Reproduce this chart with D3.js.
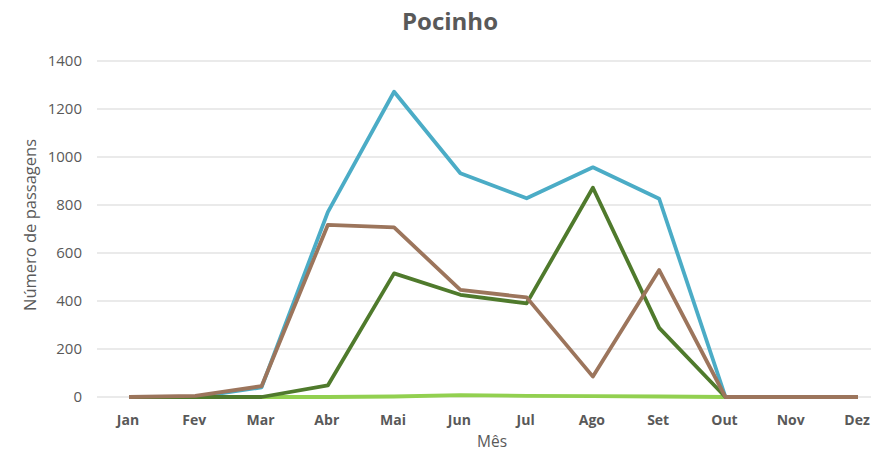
<!DOCTYPE html>
<html>
<head>
<meta charset="utf-8">
<script src="https://cdn.jsdelivr.net/npm/d3@7"></script>
<style>
  body { margin: 0; background: #fff; }
  text { font-family: "Open Sans", "DejaVu Sans", sans-serif; fill: #595959; }
</style>
</head>
<body>
<div id="chart"></div>
<script>
var months = ['Jan', 'Fev', 'Mar', 'Abr', 'Mai', 'Jun', 'Jul', 'Ago', 'Set', 'Out', 'Nov', 'Dez']
var yTicks = [0, 200, 400, 600, 800, 1000, 1200, 1400]

// values
var serieAzul = [0, 0, 40, 770, 1272, 932, 828, 957, 826, 0, 0, 0]
var serieVerdeEscuro = [0, 0, 0, 48, 515, 426, 390, 872, 288, 0, 0, 0]
var serieCastanho = [0, 5, 45, 717, 707, 446, 415, 85, 529, 0, 0, 0]
var serieVerdeClaro = [0, 0, 0, 0, 2, 8, 5, 4, 2, 0, 0, 0]

var series = [
  { name: 'verde claro', values: serieVerdeClaro, color: '#92d050' },
  { name: 'azul', values: serieAzul, color: '#4bacc6' },
  { name: 'verde escuro', values: serieVerdeEscuro, color: '#4f7a2c' },
  { name: 'castanho', values: serieCastanho, color: '#9c755c' }
]

var width = 871
var height = 453

var svg = d3
  .select('#chart')
  .append('svg')
  .attr('width', width)
  .attr('height', height)

var x = d3.scalePoint().domain(months).range([129, 858])
var y = d3.scaleLinear().domain([0, 1400]).range([397, 61])

// gridlines
svg
  .selectAll('.grid')
  .data(yTicks)
  .enter()
  .append('line')
  .attr('x1', 97)
  .attr('x2', 871)
  .attr('y1', d => y(d))
  .attr('y2', d => y(d))
  .attr('stroke', '#e3e3e3')
  .attr('stroke-width', 1.5)

// y tick labels
svg
  .selectAll('.ytick')
  .data(yTicks)
  .enter()
  .append('text')
  .attr('x', 82)
  .attr('y', d => y(d))
  .attr('dy', '0.35em')
  .attr('text-anchor', 'end')
  .style('font-size', '15px')
  .text(d => d)

// x tick labels
svg
  .selectAll('.xtick')
  .data(months)
  .enter()
  .append('text')
  .attr('x', d => x(d) - 1)
  .attr('y', 425)
  .attr('text-anchor', 'middle')
  .style('font-size', '14px')
  .style('font-weight', 'bold')
  .text(d => d)

var line = d3
  .line()
  .x((d, i) => x(months[i]))
  .y(d => y(d))

svg
  .selectAll('.serie')
  .data(series)
  .enter()
  .append('path')
  .attr('d', d => line(d.values))
  .attr('fill', 'none')
  .attr('stroke', d => d.color)
  .attr('stroke-width', 3.8)
  .attr('stroke-linejoin', 'round')

// titles
svg
  .append('text')
  .attr('x', 450)
  .attr('y', 30)
  .attr('text-anchor', 'middle')
  .style('font-size', '24px')
  .style('font-weight', 'bold')
  .text('Pocinho')

svg
  .append('text')
  .attr('x', 492)
  .attr('y', 447)
  .attr('text-anchor', 'middle')
  .style('font-size', '15.5px')
  .text('Mês')

svg
  .append('text')
  .attr('transform', 'translate(36,225) rotate(-90)')
  .attr('text-anchor', 'middle')
  .style('font-size', '16.5px')
  .text('Número de passagens')
</script>
</body>
</html>
